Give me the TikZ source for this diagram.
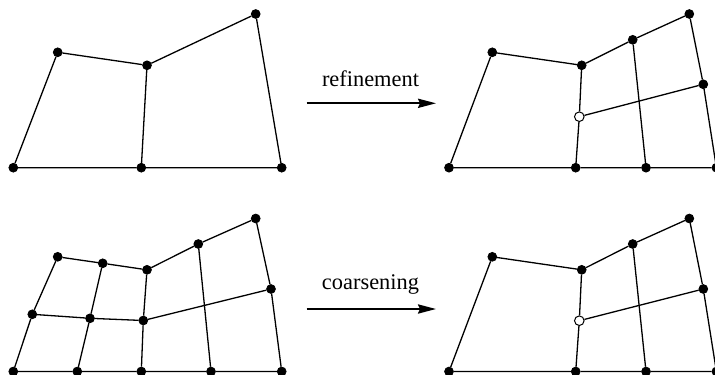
\documentclass[tikz,border=0pt]{standalone}
\usepackage{fontspec}
\setmainfont{Liberation Serif}
\usetikzlibrary{arrows.meta}
\begin{document}
\begin{tikzpicture}[x=0.5pt,y=-0.5pt,
  dot/.style={circle,fill=black,draw=black,inner sep=0pt,minimum size=4.4pt},
  hang/.style={circle,fill=white,draw=black,line width=0.5pt,inner sep=0pt,minimum size=4.8pt},
  edge/.style={line width=0.65pt},
  bigarrow/.style={line width=1pt,-{Stealth[length=9pt,width=4.6pt,inset=1pt]}},
  lbl/.style={font=\fontsize{11.2pt}{13pt}\selectfont,anchor=base,inner sep=0pt}]
\useasboundingbox (0,0) rectangle (715,374);

% ---------- top-left mesh ----------
\node[dot] (aBL) at (13.3,167.7) {};
\node[dot] (aTL) at (57.7,52.3) {};
\node[dot] (aM)  at (147,65.3) {};
\node[dot] (aTR) at (255.7,14) {};
\node[dot] (aBR) at (281.7,167.7) {};
\node[dot] (aBM) at (141.3,167.7) {};
\draw[edge] (aBL) -- (aTL) -- (aM) -- (aTR) -- (aBR) -- (aBM) -- (aBL);
\draw[edge] (aM) -- (aBM);

% ---------- top-right mesh ----------
\node[dot] (bBL) at (449,167.7) {};
\node[dot] (bTL) at (492.3,52.3) {};
\node[dot] (bM)  at (581.7,65.3) {};
\node[dot] (bMT) at (632.7,39.8) {};
\node[dot] (bTR) at (689.3,14) {};
\node[dot] (bMR) at (703.3,84.3) {};
\node[dot] (bBR) at (716.4,167.7) {};
\node[dot] (bB2) at (646,167.7) {};
\node[dot] (bBM) at (575.7,167.7) {};
\node[hang] (bH) at (579.3,116.7) {};
\draw[edge] (bBL) -- (bTL) -- (bM) -- (bMT) -- (bTR) -- (bMR) -- (bBR) -- (bB2) -- (bBM) -- (bBL);
\draw[edge] (bM) -- (bH) -- (bBM);
\draw[edge] (bH) -- (bMR);
\draw[edge] (bMT) -- (bB2);

% ---------- bottom-left mesh ----------
\node[dot] (cBL) at (13.3,371.5) {};
\node[dot] (cLM) at (32.3,314.3) {};
\node[dot] (cTL) at (57.7,256.8) {};
\node[dot] (cTM) at (102.7,263.3) {};
\node[dot] (cM)  at (147,269.8) {};
\node[dot] (cMT) at (198.3,244) {};
\node[dot] (cTR) at (255.7,218.5) {};
\node[dot] (cRM) at (271,289) {};
\node[dot] (cBR) at (281.7,371.5) {};
\node[dot] (cB3) at (211,371.5) {};
\node[dot] (cBM) at (141.3,371.5) {};
\node[dot] (cB1) at (77.3,371.5) {};
\node[dot] (cC)  at (90,318.3) {};
\node[dot] (cMM) at (143.3,320.5) {};
\draw[edge] (cBL) -- (cLM) -- (cTL) -- (cTM) -- (cM) -- (cMT) -- (cTR) -- (cRM) -- (cBR)
  -- (cB3) -- (cBM) -- (cB1) -- (cBL);
\draw[edge] (cLM) -- (cC) -- (cMM) -- (cRM);
\draw[edge] (cTM) -- (cC) -- (cB1);
\draw[edge] (cM) -- (cMM) -- (cBM);
\draw[edge] (cMT) -- (cB3);

% ---------- bottom-right mesh ----------
\node[dot] (dBL) at (449,371.5) {};
\node[dot] (dTL) at (492.3,256.8) {};
\node[dot] (dM)  at (581.7,269.8) {};
\node[dot] (dMT) at (632.7,244) {};
\node[dot] (dTR) at (689.3,218.5) {};
\node[dot] (dMR) at (703.3,289) {};
\node[dot] (dBR) at (716.4,371.5) {};
\node[dot] (dB2) at (646,371.5) {};
\node[dot] (dBM) at (575.7,371.5) {};
\node[hang] (dH) at (579.3,320.7) {};
\draw[edge] (dBL) -- (dTL) -- (dM) -- (dMT) -- (dTR) -- (dMR) -- (dBR) -- (dB2) -- (dBM) -- (dBL);
\draw[edge] (dM) -- (dH) -- (dBM);
\draw[edge] (dH) -- (dMR);
\draw[edge] (dMT) -- (dB2);

% ---------- arrows and labels ----------
\coordinate (r1) at (306.7,103.3);
\coordinate (r2) at (436,103.3);
\draw[bigarrow] (r1) -- (r2);
\node[lbl] (rl) at (370.5,86.8) {refinement};

\coordinate (c1) at (306.7,309);
\coordinate (c2) at (436,309);
\draw[bigarrow] (c1) -- (c2);
\node[lbl] (cl) at (370.5,289.2) {coarsening};
\end{tikzpicture}
\end{document}
